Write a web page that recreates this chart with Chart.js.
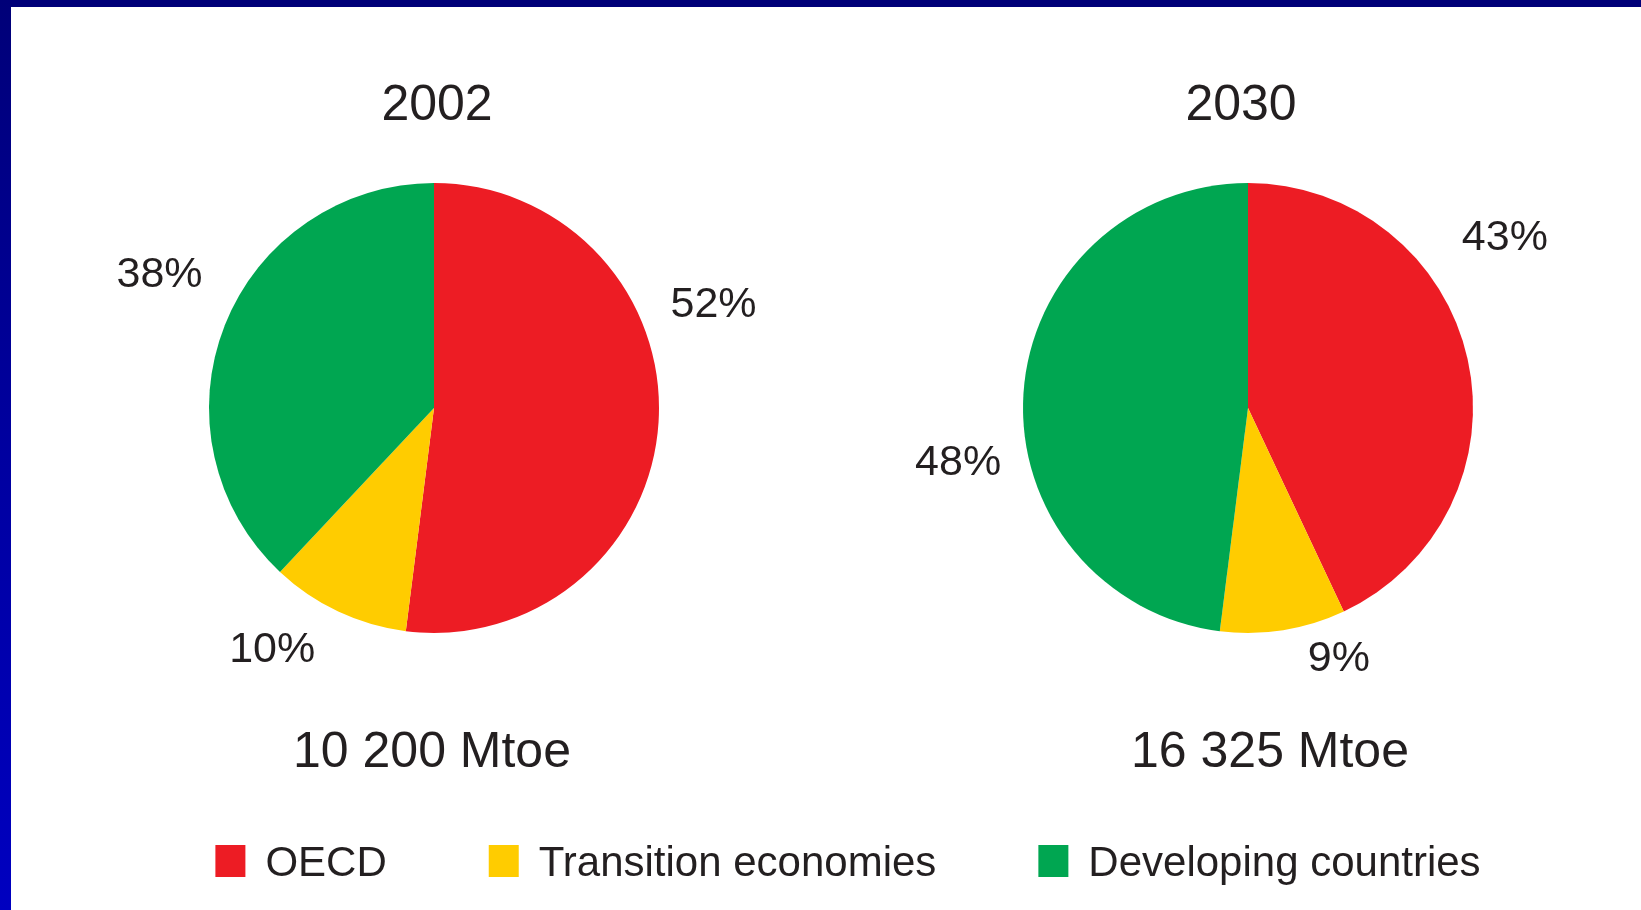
<!DOCTYPE html>
<html>
<head>
<meta charset="utf-8">
<script src="https://cdn.jsdelivr.net/npm/chart.js@4/dist/chart.umd.min.js"></script>
<style>
  html, body { margin: 0; padding: 0; background: #ffffff; }
  #page {
    position: relative; width: 1641px; height: 910px; overflow: hidden;
    background: #ffffff;
  }
  #topBar { position: absolute; left: 0; top: 0; width: 1641px; height: 7px; background: #000078; }
  #leftBar { position: absolute; left: 0; top: 0; width: 11px; height: 910px;
    background: linear-gradient(to bottom, #000078 0%, #0000A0 50%, #0000C0 100%); }
  canvas { position: absolute; left: 0; top: 0; }
</style>
</head>
<body>
<div id="page">
  <canvas id="pie2002" width="1641" height="910"></canvas>
  <canvas id="pie2030" width="1641" height="910"></canvas>
  <div id="topBar"></div>
  <div id="leftBar"></div>
</div>
<script>
// ---- data ----
const categories = ['OECD', 'Transition economies', 'Developing countries'];
const years = ['2002', '2030'];
const shares2002 = [52, 10, 38];
const shares2030 = [43, 9, 48];
const totals = ['10 200 Mtoe', '16 325 Mtoe'];
const colours = ['#ED1C24', '#FFCC00', '#00A651'];

const FONT = '"Liberation Sans", Arial, sans-serif';
const INK = '#231F20';

const textPlugin = {
  id: 'pieTexts',
  afterDraw(chart, args, opts) {
    const ctx = chart.ctx;
    const meta = chart.getDatasetMeta(0);
    const arcs = meta.data;
    if (!arcs.length) return;
    const cx = arcs[0].x, cy = arcs[0].y, r = arcs[0].outerRadius;
    const values = chart.data.datasets[0].data;
    ctx.save();
    ctx.fillStyle = INK;
    // title & subtitle
    ctx.textAlign = 'center';
    ctx.textBaseline = 'alphabetic';
    ctx.font = '50px ' + FONT;
    ctx.fillText(opts.title, cx + opts.titleDx, cy - r - 63);
    ctx.fillText(opts.subtitle, cx + opts.subDx, cy + r + 134);
    // percent labels
    ctx.font = '43px ' + FONT;
    ctx.textBaseline = 'middle';
    arcs.forEach((arc, i) => {
      const mid = (arc.startAngle + arc.endAngle) / 2 + opts.angleShift[i] * Math.PI / 180;
      const d = r * opts.distance[i];
      ctx.fillText(values[i] + '%', cx + Math.cos(mid) * d, cy + Math.sin(mid) * d);
    });
    // shared legend
    if (opts.legend) {
      const lg = opts.legend;
      ctx.font = lg.fontSize + 'px ' + FONT;
      ctx.textAlign = 'left';
      ctx.textBaseline = 'alphabetic';
      const widths = categories.map(c => ctx.measureText(c).width);
      const total = widths.reduce((s, w) => s + lg.box + lg.textGap + w, 0) + lg.itemGap * (categories.length - 1);
      let x = lg.centerX - total / 2;
      categories.forEach((c, i) => {
        ctx.fillStyle = colours[i];
        ctx.fillRect(x, lg.baseline - lg.boxH + 1, lg.box, lg.boxH);
        ctx.fillStyle = INK;
        ctx.fillText(c, x + lg.box + lg.textGap, lg.baseline);
        x += lg.box + lg.textGap + widths[i] + lg.itemGap;
      });
    }
    ctx.restore();
  }
};

function makePie(id, values, padding, texts) {
  return new Chart(document.getElementById(id), {
    type: 'pie',
    data: {
      labels: categories,
      datasets: [{ data: values, backgroundColor: colours, borderWidth: 0 }]
    },
    options: {
      responsive: false,
      devicePixelRatio: 1,
      animation: false,
      layout: { padding: padding },
      plugins: {
        legend: { display: false },
        tooltip: { enabled: false },
        pieTexts: texts
      }
    },
    plugins: [textPlugin]
  });
}

makePie('pie2002', shares2002,
  { left: 209, right: 982, top: 183, bottom: 277 },
  { title: years[0], subtitle: totals[0], titleDx: 3, subDx: -2,
    angleShift: [-23.8, 8.6, 4.3], distance: [1.324, 1.293, 1.356],
    legend: { fontSize: 42, box: 30, boxH: 32, textGap: 20, itemGap: 102, centerX: 848, baseline: 876 } });

makePie('pie2030', shares2030,
  { left: 1023, right: 168, top: 183, bottom: 277 },
  { title: years[1], subtitle: totals[1], titleDx: -7, subDx: 22,
    angleShift: [-20.9, -10.9, -14.3], distance: [1.369, 1.187, 1.311],
    legend: null });
</script>
</body>
</html>
